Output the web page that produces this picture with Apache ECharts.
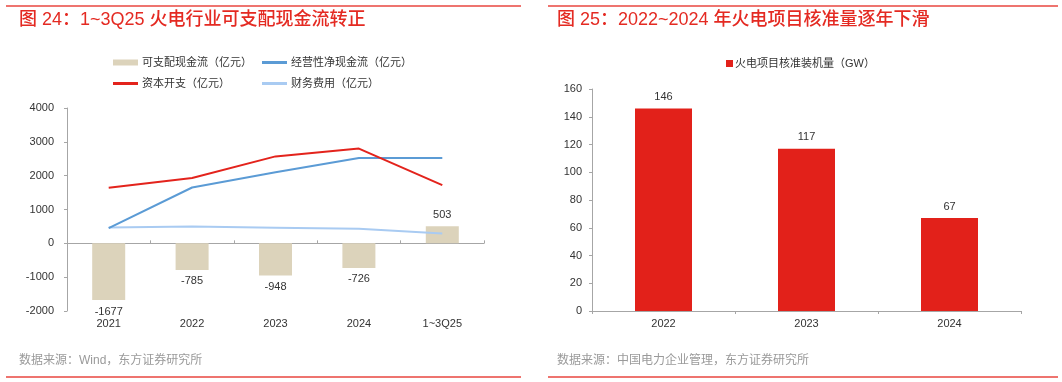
<!DOCTYPE html>
<html><head><meta charset="utf-8">
<script src="https://cdn.jsdelivr.net/npm/echarts@6/dist/echarts.min.js"></script>
<style>html,body{margin:0;padding:0;background:#fff}#c{width:1062px;height:382px}</style>
</head><body><div id="c"></div>
<script>
// ---- data ----
const leftCategories = ['2021', '2022', '2023', '2024', '1~3Q25'];
const disposableCF = [-1677, -785, -948, -726, 503];
const operatingCF = [450, 1650, 2100, 2520, 2520];
const capex = [1640, 1930, 2570, 2800, 1720];
const financeCost = [470, 495, 460, 430, 290];
const leftYTicks = { min: -2000, max: 4000, interval: 1000 };

const rightCategories = ['2022', '2023', '2024'];
const approvedGW = [146, 117, 67];
const rightYTicks = { min: 0, max: 160, interval: 20 };

const leftTitle = '图 24：1~3Q25 火电行业可支配现金流转正';
const rightTitle = '图 25：2022~2024 年火电项目核准量逐年下滑';
const leftSource = '数据来源：Wind，东方证券研究所';
const rightSource = '数据来源：中国电力企业管理，东方证券研究所';
const names = ['可支配现金流（亿元）', '经营性净现金流（亿元）', '资本开支（亿元）', '财务费用（亿元）'];
const rightName = '火电项目核准装机量（GW）';

// ---- style ----
const FONT = '"Liberation Sans", Arial, "Noto Sans CJK SC", sans-serif';
const RED = '#e42a22';
const AX = '#a6a6a6';
const TXT = '#333';
const cBeige = '#dcd3bb', cBlue = '#5b9bd5', cLight = '#a9cbf2', cRed = '#e3231c';

const chart = echarts.init(document.getElementById('c'), null, { renderer: 'canvas' });

function leg(name, left, top, color, h) {
  return {
    data: [name], left: left, top: top, icon: 'rect', itemWidth: 25, itemHeight: h,
    itemGap: 0, padding: 0, selectedMode: false,
    itemStyle: { color: color },
    textStyle: { fontSize: 11, color: TXT, fontFamily: FONT, padding: [0, 0, 0, -1] }
  };
}
const plain = v => String(v);

const option = {
  animation: false,
  textStyle: { fontFamily: FONT },
  graphic: [
    { type: 'line', shape: { x1: 6, y1: 6, x2: 521, y2: 6 }, style: { stroke: '#e8463f', lineWidth: 1.5 } },
    { type: 'line', shape: { x1: 548, y1: 6, x2: 1058, y2: 6 }, style: { stroke: '#e8463f', lineWidth: 1.5 } },
    { type: 'line', shape: { x1: 6, y1: 377, x2: 521, y2: 377 }, style: { stroke: '#e8463f', lineWidth: 1.5 } },
    { type: 'line', shape: { x1: 548, y1: 377, x2: 1058, y2: 377 }, style: { stroke: '#e8463f', lineWidth: 1.5 } },
    { type: 'text', x: 19, y: 20, style: { text: leftTitle, fill: RED, font: '500 18px ' + FONT, textVerticalAlign: 'middle' } },
    { type: 'text', x: 557, y: 20, style: { text: rightTitle, fill: RED, font: '500 18px ' + FONT, textVerticalAlign: 'middle' } },
    { type: 'text', x: 19, y: 361, style: { text: leftSource, fill: '#9a9a9a', font: '12px ' + FONT, textVerticalAlign: 'middle' } },
    { type: 'text', x: 557, y: 361, style: { text: rightSource, fill: '#9a9a9a', font: '12px ' + FONT, textVerticalAlign: 'middle' } }
  ],
  legend: [
    leg(names[0], 113, 57, cBeige, 6),
    leg(names[1], 262, 57, cBlue, 3),
    leg(names[2], 113, 78, cRed, 3),
    leg(names[3], 262, 78, cLight, 3),
    {
      data: [rightName], left: 726, top: 58, icon: 'rect', itemWidth: 7, itemHeight: 7, itemGap: 0, padding: 0,
      selectedMode: false, textStyle: { fontSize: 11, color: TXT, fontFamily: FONT, padding: [0, 0, 0, -3] }
    }
  ],
  grid: [
    { left: 67, top: 108, width: 417, height: 203 },
    { left: 592, top: 89, width: 429, height: 222 }
  ],
  xAxis: [
    {
      type: 'category', gridIndex: 0, data: leftCategories, position: 'bottom',
      axisLine: { onZero: true, lineStyle: { color: AX } },
      axisTick: { show: true, inside: true, length: 3, lineStyle: { color: AX } },
      axisLabel: { show: false }
    },
    {
      type: 'category', gridIndex: 0, data: leftCategories, position: 'bottom',
      axisLine: { show: false, onZero: false }, axisTick: { show: false },
      axisLabel: { margin: 7, fontSize: 11, color: TXT, fontFamily: FONT }
    },
    {
      type: 'category', gridIndex: 1, data: rightCategories,
      axisLine: { lineStyle: { color: AX } },
      axisTick: { show: true, length: 3, lineStyle: { color: AX } },
      axisLabel: { margin: 7, fontSize: 11, color: TXT, fontFamily: FONT }
    }
  ],
  yAxis: [
    {
      type: 'value', gridIndex: 0, min: leftYTicks.min, max: leftYTicks.max, interval: leftYTicks.interval,
      axisLine: { show: true, lineStyle: { color: AX } },
      axisTick: { show: true, length: 3, lineStyle: { color: AX } },
      splitLine: { show: false },
      axisLabel: { margin: 13, fontSize: 11, color: TXT, fontFamily: FONT, formatter: plain }
    },
    {
      type: 'value', gridIndex: 1, min: rightYTicks.min, max: rightYTicks.max, interval: rightYTicks.interval,
      axisLine: { show: true, lineStyle: { color: AX } },
      axisTick: { show: true, length: 3, lineStyle: { color: AX } },
      splitLine: { show: false },
      axisLabel: { margin: 10, fontSize: 11, color: TXT, fontFamily: FONT, formatter: plain }
    }
  ],
  series: [
    {
      name: names[0], type: 'bar', xAxisIndex: 0, yAxisIndex: 0,
      data: disposableCF.map(v => ({ value: v, label: { position: v < 0 ? 'bottom' : 'top' } })),
      barWidth: 33,
      itemStyle: { color: cBeige },
      label: { show: true, fontSize: 11, color: TXT, fontFamily: FONT, distance: 6, position: 'top' }
    },
    { name: names[1], type: 'line', xAxisIndex: 0, yAxisIndex: 0, data: operatingCF, symbol: 'none', lineStyle: { color: cBlue, width: 2 }, itemStyle: { color: cBlue }, z: 3 },
    { name: names[2], type: 'line', xAxisIndex: 0, yAxisIndex: 0, data: capex, symbol: 'none', lineStyle: { color: cRed, width: 2 }, itemStyle: { color: cRed }, z: 4 },
    { name: names[3], type: 'line', xAxisIndex: 0, yAxisIndex: 0, data: financeCost, symbol: 'none', lineStyle: { color: cLight, width: 2 }, itemStyle: { color: cLight }, z: 2 },
    {
      name: rightName, type: 'bar', xAxisIndex: 2, yAxisIndex: 1, data: approvedGW, barWidth: 57,
      itemStyle: { color: '#e2211a' },
      label: { show: true, position: 'top', distance: 6, fontSize: 11, color: TXT, fontFamily: FONT }
    }
  ]
};
chart.setOption(option);
</script></body></html>
